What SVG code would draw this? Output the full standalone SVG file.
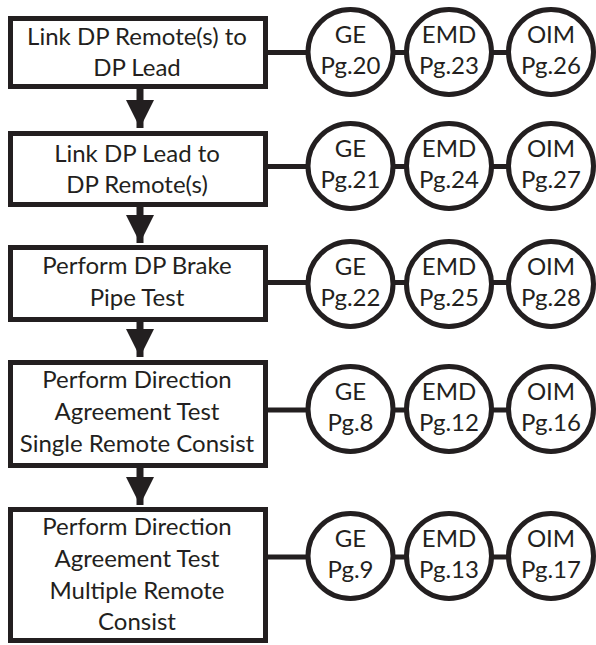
<svg xmlns="http://www.w3.org/2000/svg" width="596" height="645" viewBox="0 0 596 645">
<defs>
<marker id="ah" markerUnits="userSpaceOnUse" markerWidth="28" markerHeight="28" refX="28" refY="14" orient="auto">
<path d="M0,0 L28,14 L0,28 Z" fill="#231f20"/>
</marker>
<style>
.box{fill:#fff;stroke:#231f20;stroke-width:5}
.c{fill:#fff;stroke:#231f20;stroke-width:5}
.ln{stroke:#231f20;stroke-width:5;fill:none}
.ar{stroke:#231f20;stroke-width:7;fill:none}
text{font-family:Lato,"Liberation Sans",sans-serif;font-size:24px;fill:#231f20;text-anchor:middle}
</style>
</defs>
<rect width="596" height="645" fill="#fff"/>
<g id="connectors">
<line class="ar" x1="140" y1="88" x2="140" y2="128" marker-end="url(#ah)"/>
<line class="ar" x1="140" y1="206" x2="140" y2="243" marker-end="url(#ah)"/>
<line class="ar" x1="140" y1="321" x2="140" y2="357" marker-end="url(#ah)"/>
<line class="ar" x1="140" y1="467" x2="140" y2="505" marker-end="url(#ah)"/>
<line class="ln" x1="266" y1="52.5" x2="560" y2="52.5"/>
<line class="ln" x1="266" y1="166.5" x2="560" y2="166.5"/>
<line class="ln" x1="266" y1="282.5" x2="560" y2="282.5"/>
<line class="ln" x1="266" y1="410" x2="560" y2="410"/>
<line class="ln" x1="266" y1="557" x2="560" y2="557"/>
</g>
<g id="box1"><rect class="box" x="10.5" y="18.5" width="255" height="68"/><text x="137" y="45">Link DP Remote(s) to</text><text x="137" y="76">DP Lead</text></g>
<g id="box2"><rect class="box" x="10.5" y="133.5" width="255" height="71"/><text x="137" y="162">Link DP Lead to</text><text x="137" y="193">DP Remote(s)</text></g>
<g id="box3"><rect class="box" x="10.5" y="247.5" width="255" height="72"/><text x="137" y="274">Perform DP Brake</text><text x="137" y="306">Pipe Test</text></g>
<g id="box4"><rect class="box" x="10.5" y="362.5" width="255" height="103"/><text x="137" y="388">Perform Direction</text><text x="137" y="420">Agreement Test</text><text x="137" y="452">Single Remote Consist</text></g>
<g id="box5"><rect class="box" x="10.5" y="509.5" width="255" height="131"/><text x="137" y="535">Perform Direction</text><text x="137" y="567">Agreement Test</text><text x="137" y="599">Multiple Remote</text><text x="137" y="630">Consist</text></g>
<g id="ge1"><circle class="c" cx="350.5" cy="52" r="42.5"/><text x="350.5" y="43">GE</text><text x="350.5" y="74">Pg.20</text></g>
<g id="emd1"><circle class="c" cx="449" cy="52" r="42.5"/><text x="449" y="43">EMD</text><text x="449" y="74">Pg.23</text></g>
<g id="oim1"><circle class="c" cx="551" cy="52" r="42.5"/><text x="551" y="43">OIM</text><text x="551" y="74">Pg.26</text></g>
<g id="ge2"><circle class="c" cx="350.5" cy="166" r="42.5"/><text x="350.5" y="157">GE</text><text x="350.5" y="188">Pg.21</text></g>
<g id="emd2"><circle class="c" cx="449" cy="166" r="42.5"/><text x="449" y="157">EMD</text><text x="449" y="188">Pg.24</text></g>
<g id="oim2"><circle class="c" cx="551" cy="166" r="42.5"/><text x="551" y="157">OIM</text><text x="551" y="188">Pg.27</text></g>
<g id="ge3"><circle class="c" cx="350.5" cy="284" r="42.5"/><text x="350.5" y="275">GE</text><text x="350.5" y="306">Pg.22</text></g>
<g id="emd3"><circle class="c" cx="449" cy="284" r="42.5"/><text x="449" y="275">EMD</text><text x="449" y="306">Pg.25</text></g>
<g id="oim3"><circle class="c" cx="551" cy="284" r="42.5"/><text x="551" y="275">OIM</text><text x="551" y="306">Pg.28</text></g>
<g id="ge4"><circle class="c" cx="350.5" cy="409" r="42.5"/><text x="350.5" y="400">GE</text><text x="350.5" y="431">Pg.8</text></g>
<g id="emd4"><circle class="c" cx="449" cy="409" r="42.5"/><text x="449" y="400">EMD</text><text x="449" y="431">Pg.12</text></g>
<g id="oim4"><circle class="c" cx="551" cy="409" r="42.5"/><text x="551" y="400">OIM</text><text x="551" y="431">Pg.16</text></g>
<g id="ge5"><circle class="c" cx="350.5" cy="556" r="42.5"/><text x="350.5" y="547">GE</text><text x="350.5" y="578">Pg.9</text></g>
<g id="emd5"><circle class="c" cx="449" cy="556" r="42.5"/><text x="449" y="547">EMD</text><text x="449" y="578">Pg.13</text></g>
<g id="oim5"><circle class="c" cx="551" cy="556" r="42.5"/><text x="551" y="547">OIM</text><text x="551" y="578">Pg.17</text></g>
</svg>
